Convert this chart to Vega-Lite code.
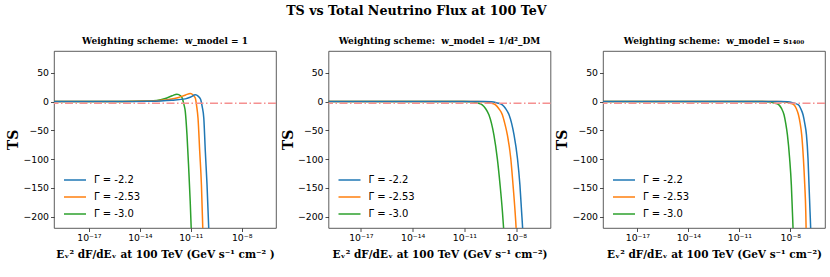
{
  "$schema": "https://vega.github.io/schema/vega-lite/v6.json",
  "padding": {"left": 6, "top": 4, "right": 5, "bottom": 5},
  "background": "white",
  "title": {"text": "TS vs Total Neutrino Flux at 100 TeV", "font": "DejaVu Serif", "fontSize": 12.7, "fontWeight": "bold", "color": "black", "anchor": "middle", "frame": "bounds", "offset": 19},
  "datasets": {
    "curves": [
      {"panel": 1, "series": "Γ = -3.0", "flux": 3.16e-20, "ts": 0},
      {"panel": 1, "series": "Γ = -3.0", "flux": 1e-15, "ts": 0.2},
      {"panel": 1, "series": "Γ = -3.0", "flux": 3.16e-14, "ts": 1},
      {"panel": 1, "series": "Γ = -3.0", "flux": 1e-13, "ts": 2},
      {"panel": 1, "series": "Γ = -3.0", "flux": 3.16e-13, "ts": 5.5},
      {"panel": 1, "series": "Γ = -3.0", "flux": 7.94e-13, "ts": 10},
      {"panel": 1, "series": "Γ = -3.0", "flux": 1.55e-12, "ts": 12.9},
      {"panel": 1, "series": "Γ = -3.0", "flux": 2.51e-12, "ts": 10},
      {"panel": 1, "series": "Γ = -3.0", "flux": 3.16e-12, "ts": 6},
      {"panel": 1, "series": "Γ = -3.0", "flux": 3.98e-12, "ts": -5},
      {"panel": 1, "series": "Γ = -3.0", "flux": 4.79e-12, "ts": -17.5},
      {"panel": 1, "series": "Γ = -3.0", "flux": 6.03e-12, "ts": -58},
      {"panel": 1, "series": "Γ = -3.0", "flux": 7.59e-12, "ts": -116},
      {"panel": 1, "series": "Γ = -3.0", "flux": 9.33e-12, "ts": -174},
      {"panel": 1, "series": "Γ = -3.0", "flux": 1.07e-11, "ts": -221},
      {"panel": 1, "series": "Γ = -3.0", "flux": 1.17e-11, "ts": -260},

      {"panel": 1, "series": "Γ = -2.53", "flux": 3.16e-20, "ts": 0},
      {"panel": 1, "series": "Γ = -2.53", "flux": 1e-15, "ts": 0.2},
      {"panel": 1, "series": "Γ = -2.53", "flux": 3.16e-14, "ts": 0.8},
      {"panel": 1, "series": "Γ = -2.53", "flux": 1.58e-13, "ts": 2},
      {"panel": 1, "series": "Γ = -2.53", "flux": 5.01e-13, "ts": 3.5},
      {"panel": 1, "series": "Γ = -2.53", "flux": 1.95e-12, "ts": 7},
      {"panel": 1, "series": "Γ = -2.53", "flux": 5.01e-12, "ts": 11.5},
      {"panel": 1, "series": "Γ = -2.53", "flux": 9.55e-12, "ts": 14},
      {"panel": 1, "series": "Γ = -2.53", "flux": 1.41e-11, "ts": 11},
      {"panel": 1, "series": "Γ = -2.53", "flux": 1.86e-11, "ts": 6},
      {"panel": 1, "series": "Γ = -2.53", "flux": 2.24e-11, "ts": -8},
      {"panel": 1, "series": "Γ = -2.53", "flux": 2.69e-11, "ts": -29},
      {"panel": 1, "series": "Γ = -2.53", "flux": 3.39e-11, "ts": -87},
      {"panel": 1, "series": "Γ = -2.53", "flux": 4.27e-11, "ts": -145},
      {"panel": 1, "series": "Γ = -2.53", "flux": 5.13e-11, "ts": -221},
      {"panel": 1, "series": "Γ = -2.53", "flux": 5.62e-11, "ts": -260},

      {"panel": 1, "series": "Γ = -2.2", "flux": 3.16e-20, "ts": 0},
      {"panel": 1, "series": "Γ = -2.2", "flux": 1e-15, "ts": 0.2},
      {"panel": 1, "series": "Γ = -2.2", "flux": 3.16e-14, "ts": 0.6},
      {"panel": 1, "series": "Γ = -2.2", "flux": 7.76e-13, "ts": 2.4},
      {"panel": 1, "series": "Γ = -2.2", "flux": 4.79e-12, "ts": 4.7},
      {"panel": 1, "series": "Γ = -2.2", "flux": 1e-11, "ts": 8},
      {"panel": 1, "series": "Γ = -2.2", "flux": 1.86e-11, "ts": 11.7},
      {"panel": 1, "series": "Γ = -2.2", "flux": 2.82e-11, "ts": 9},
      {"panel": 1, "series": "Γ = -2.2", "flux": 3.8e-11, "ts": 4},
      {"panel": 1, "series": "Γ = -2.2", "flux": 4.68e-11, "ts": -8},
      {"panel": 1, "series": "Γ = -2.2", "flux": 5.89e-11, "ts": -29},
      {"panel": 1, "series": "Γ = -2.2", "flux": 7.24e-11, "ts": -87},
      {"panel": 1, "series": "Γ = -2.2", "flux": 9.12e-11, "ts": -145},
      {"panel": 1, "series": "Γ = -2.2", "flux": 1.15e-10, "ts": -221},
      {"panel": 1, "series": "Γ = -2.2", "flux": 1.26e-10, "ts": -260},

      {"panel": 2, "series": "Γ = -3.0", "flux": 3.16e-20, "ts": 0},
      {"panel": 2, "series": "Γ = -3.0", "flux": 9.5e-12, "ts": 0},
      {"panel": 2, "series": "Γ = -3.0", "flux": 2.38e-11, "ts": -0.5},
      {"panel": 2, "series": "Γ = -3.0", "flux": 4.3e-11, "ts": -1.5},
      {"panel": 2, "series": "Γ = -3.0", "flux": 6.6e-11, "ts": -3},
      {"panel": 2, "series": "Γ = -3.0", "flux": 1.07e-10, "ts": -5.8},
      {"panel": 2, "series": "Γ = -3.0", "flux": 1.65e-10, "ts": -12},
      {"panel": 2, "series": "Γ = -3.0", "flux": 2.6e-10, "ts": -23},
      {"panel": 2, "series": "Γ = -3.0", "flux": 3.67e-10, "ts": -38},
      {"panel": 2, "series": "Γ = -3.0", "flux": 5.05e-10, "ts": -58},
      {"panel": 2, "series": "Γ = -3.0", "flux": 7.95e-10, "ts": -99},
      {"panel": 2, "series": "Γ = -3.0", "flux": 1.15e-9, "ts": -145},
      {"panel": 2, "series": "Γ = -3.0", "flux": 1.58e-9, "ts": -192},
      {"panel": 2, "series": "Γ = -3.0", "flux": 1.85e-9, "ts": -221},
      {"panel": 2, "series": "Γ = -3.0", "flux": 2.28e-9, "ts": -270},

      {"panel": 2, "series": "Γ = -2.53", "flux": 3.16e-20, "ts": 0},
      {"panel": 2, "series": "Γ = -2.53", "flux": 5.9e-11, "ts": 0},
      {"panel": 2, "series": "Γ = -2.53", "flux": 1.47e-10, "ts": -0.5},
      {"panel": 2, "series": "Γ = -2.53", "flux": 2.53e-10, "ts": -1.5},
      {"panel": 2, "series": "Γ = -2.53", "flux": 3.8e-10, "ts": -3},
      {"panel": 2, "series": "Γ = -2.53", "flux": 6.25e-10, "ts": -5.8},
      {"panel": 2, "series": "Γ = -2.53", "flux": 9.6e-10, "ts": -12},
      {"panel": 2, "series": "Γ = -2.53", "flux": 1.56e-9, "ts": -23},
      {"panel": 2, "series": "Γ = -2.53", "flux": 2.15e-9, "ts": -38},
      {"panel": 2, "series": "Γ = -2.53", "flux": 3.04e-9, "ts": -58},
      {"panel": 2, "series": "Γ = -2.53", "flux": 4.8e-9, "ts": -99},
      {"panel": 2, "series": "Γ = -2.53", "flux": 6.47e-9, "ts": -145},
      {"panel": 2, "series": "Γ = -2.53", "flux": 8.52e-9, "ts": -192},
      {"panel": 2, "series": "Γ = -2.53", "flux": 9.8e-9, "ts": -221},
      {"panel": 2, "series": "Γ = -2.53", "flux": 1.12e-8, "ts": -265},

      {"panel": 2, "series": "Γ = -2.2", "flux": 3.16e-20, "ts": 0},
      {"panel": 2, "series": "Γ = -2.2", "flux": 1.47e-10, "ts": 0},
      {"panel": 2, "series": "Γ = -2.2", "flux": 3.66e-10, "ts": -0.5},
      {"panel": 2, "series": "Γ = -2.2", "flux": 6.3e-10, "ts": -1.5},
      {"panel": 2, "series": "Γ = -2.2", "flux": 9.5e-10, "ts": -3},
      {"panel": 2, "series": "Γ = -2.2", "flux": 1.56e-9, "ts": -5.8},
      {"panel": 2, "series": "Γ = -2.2", "flux": 2.4e-9, "ts": -12},
      {"panel": 2, "series": "Γ = -2.2", "flux": 3.8e-9, "ts": -23},
      {"panel": 2, "series": "Γ = -2.2", "flux": 5.37e-9, "ts": -38},
      {"panel": 2, "series": "Γ = -2.2", "flux": 7.4e-9, "ts": -58},
      {"panel": 2, "series": "Γ = -2.2", "flux": 1.17e-8, "ts": -99},
      {"panel": 2, "series": "Γ = -2.2", "flux": 1.62e-8, "ts": -145},
      {"panel": 2, "series": "Γ = -2.2", "flux": 2.03e-8, "ts": -192},
      {"panel": 2, "series": "Γ = -2.2", "flux": 2.33e-8, "ts": -221},
      {"panel": 2, "series": "Γ = -2.2", "flux": 2.68e-8, "ts": -265},

      {"panel": 3, "series": "Γ = -3.0", "flux": 3.16e-20, "ts": 0},
      {"panel": 3, "series": "Γ = -3.0", "flux": 2e-10, "ts": 0},
      {"panel": 3, "series": "Γ = -3.0", "flux": 5.01e-10, "ts": -0.5},
      {"panel": 3, "series": "Γ = -3.0", "flux": 8.71e-10, "ts": -1.5},
      {"panel": 3, "series": "Γ = -3.0", "flux": 1.32e-9, "ts": -3},
      {"panel": 3, "series": "Γ = -3.0", "flux": 2.14e-9, "ts": -5.8},
      {"panel": 3, "series": "Γ = -3.0", "flux": 3.02e-9, "ts": -12},
      {"panel": 3, "series": "Γ = -3.0", "flux": 4.27e-9, "ts": -23},
      {"panel": 3, "series": "Γ = -3.0", "flux": 5.37e-9, "ts": -38},
      {"panel": 3, "series": "Γ = -3.0", "flux": 6.76e-9, "ts": -58},
      {"panel": 3, "series": "Γ = -3.0", "flux": 9.12e-9, "ts": -99},
      {"panel": 3, "series": "Γ = -3.0", "flux": 1.15e-8, "ts": -145},
      {"panel": 3, "series": "Γ = -3.0", "flux": 1.33e-8, "ts": -192},
      {"panel": 3, "series": "Γ = -3.0", "flux": 1.45e-8, "ts": -221},
      {"panel": 3, "series": "Γ = -3.0", "flux": 1.62e-8, "ts": -270},

      {"panel": 3, "series": "Γ = -2.53", "flux": 3.16e-20, "ts": 0},
      {"panel": 3, "series": "Γ = -2.53", "flux": 1.58e-9, "ts": 0},
      {"panel": 3, "series": "Γ = -2.53", "flux": 3.98e-9, "ts": -0.5},
      {"panel": 3, "series": "Γ = -2.53", "flux": 6.76e-9, "ts": -1.5},
      {"panel": 3, "series": "Γ = -2.53", "flux": 1e-8, "ts": -3},
      {"panel": 3, "series": "Γ = -2.53", "flux": 1.66e-8, "ts": -5.8},
      {"panel": 3, "series": "Γ = -2.53", "flux": 2.24e-8, "ts": -12},
      {"panel": 3, "series": "Γ = -2.53", "flux": 3.02e-8, "ts": -23},
      {"panel": 3, "series": "Γ = -2.53", "flux": 3.8e-8, "ts": -38},
      {"panel": 3, "series": "Γ = -2.53", "flux": 4.68e-8, "ts": -58},
      {"panel": 3, "series": "Γ = -2.53", "flux": 5.89e-8, "ts": -99},
      {"panel": 3, "series": "Γ = -2.53", "flux": 7.08e-8, "ts": -145},
      {"panel": 3, "series": "Γ = -2.53", "flux": 8.13e-8, "ts": -192},
      {"panel": 3, "series": "Γ = -2.53", "flux": 8.51e-8, "ts": -221},
      {"panel": 3, "series": "Γ = -2.53", "flux": 9.33e-8, "ts": -265},

      {"panel": 3, "series": "Γ = -2.2", "flux": 3.16e-20, "ts": 0},
      {"panel": 3, "series": "Γ = -2.2", "flux": 2.82e-9, "ts": 0},
      {"panel": 3, "series": "Γ = -2.2", "flux": 7.08e-9, "ts": -0.5},
      {"panel": 3, "series": "Γ = -2.2", "flux": 1.2e-8, "ts": -1.5},
      {"panel": 3, "series": "Γ = -2.2", "flux": 1.78e-8, "ts": -3},
      {"panel": 3, "series": "Γ = -2.2", "flux": 3.02e-8, "ts": -5.8},
      {"panel": 3, "series": "Γ = -2.2", "flux": 4.07e-8, "ts": -12},
      {"panel": 3, "series": "Γ = -2.2", "flux": 5.62e-8, "ts": -23},
      {"panel": 3, "series": "Γ = -2.2", "flux": 7.08e-8, "ts": -38},
      {"panel": 3, "series": "Γ = -2.2", "flux": 8.91e-8, "ts": -58},
      {"panel": 3, "series": "Γ = -2.2", "flux": 1.1e-7, "ts": -99},
      {"panel": 3, "series": "Γ = -2.2", "flux": 1.26e-7, "ts": -145},
      {"panel": 3, "series": "Γ = -2.2", "flux": 1.45e-7, "ts": -192},
      {"panel": 3, "series": "Γ = -2.2", "flux": 1.58e-7, "ts": -221},
      {"panel": 3, "series": "Γ = -2.2", "flux": 1.74e-7, "ts": -265}
    ],
    "threshold": [{"ts": -3}]
  },
  "spacing": 52.5,
  "bounds": "flush",
  "resolve": {"scale": {"color": "independent"}, "legend": {"color": "independent"}},
  "hconcat": [
    {
      "width": 222, "height": 177,
      "title": {"text": "Weighting scheme:\u00a0\u00a0w_model = 1"},
      "layer": [
        {
          "data": {"name": "curves"},
          "transform": [{"filter": "datum.panel === 1"}],
          "mark": {"type": "line", "clip": true, "strokeWidth": 1.5, "interpolate": "monotone"},
          "encoding": {
            "x": {"field": "flux", "type": "quantitative", "scale": {"type": "log", "domain": [8.9e-20, 1.05e-6], "nice": false}, "axis": {"values": [1e-17, 1e-14, 1e-11, 1e-8], "tickCount": 10, "labelExpr": "datum.value < 1e-16 ? '10⁻¹⁷' : datum.value < 1e-13 ? '10⁻¹⁴' : datum.value < 1e-10 ? '10⁻¹¹' : '10⁻⁸'"}, "title": "Eᵥ² dF/dEᵥ at 100 TeV (GeV s⁻¹ cm⁻² )"},
            "y": {"field": "ts", "type": "quantitative", "scale": {"domain": [-220, 88], "nice": false, "zero": false}, "axis": {"values": [-200, -150, -100, -50, 0, 50], "tickCount": 10}, "title": "TS"},
            "color": {"field": "series", "type": "nominal", "sort": ["Γ = -2.2", "Γ = -2.53", "Γ = -3.0"], "scale": {"domain": ["Γ = -2.2", "Γ = -2.53", "Γ = -3.0"], "range": ["#1f77b4", "#ff7f0e", "#2ca02c"]}, "legend": {"title": null}}
          }
        },
        {
          "data": {"name": "threshold"},
          "mark": {"type": "rule", "color": "#f59090", "strokeDash": [8, 2.5, 1.5, 2.5], "strokeWidth": 1.5},
          "encoding": {"y": {"field": "ts", "type": "quantitative"}}
        }
      ]
    },
    {
      "width": 222, "height": 177,
      "title": {"text": "Weighting scheme:\u00a0\u00a0w_model = 1/d²_DM"},
      "layer": [
        {
          "data": {"name": "curves"},
          "transform": [{"filter": "datum.panel === 2"}],
          "mark": {"type": "line", "clip": true, "strokeWidth": 1.5, "interpolate": "monotone"},
          "encoding": {
            "x": {"field": "flux", "type": "quantitative", "scale": {"type": "log", "domain": [1.35e-19, 9.55e-7], "nice": false}, "axis": {"values": [1e-17, 1e-14, 1e-11, 1e-8], "tickCount": 10, "labelExpr": "datum.value < 1e-16 ? '10⁻¹⁷' : datum.value < 1e-13 ? '10⁻¹⁴' : datum.value < 1e-10 ? '10⁻¹¹' : '10⁻⁸'"}, "title": "Eᵥ² dF/dEᵥ at 100 TeV (GeV s⁻¹ cm⁻²)"},
            "y": {"field": "ts", "type": "quantitative", "scale": {"domain": [-220, 88], "nice": false, "zero": false}, "axis": {"values": [-200, -150, -100, -50, 0, 50], "tickCount": 10}, "title": "TS"},
            "color": {"field": "series", "type": "nominal", "sort": ["Γ = -2.2", "Γ = -2.53", "Γ = -3.0"], "scale": {"domain": ["Γ = -2.2", "Γ = -2.53", "Γ = -3.0"], "range": ["#1f77b4", "#ff7f0e", "#2ca02c"]}, "legend": {"title": null}}
          }
        },
        {
          "data": {"name": "threshold"},
          "mark": {"type": "rule", "color": "#f59090", "strokeDash": [8, 2.5, 1.5, 2.5], "strokeWidth": 1.5},
          "encoding": {"y": {"field": "ts", "type": "quantitative"}}
        }
      ]
    },
    {
      "width": 222, "height": 177,
      "title": {"text": "Weighting scheme:\u00a0\u00a0w_model = s₁₄₀₀"},
      "layer": [
        {
          "data": {"name": "curves"},
          "transform": [{"filter": "datum.panel === 3"}],
          "mark": {"type": "line", "clip": true, "strokeWidth": 1.5, "interpolate": "monotone"},
          "encoding": {
            "x": {"field": "flux", "type": "quantitative", "scale": {"type": "log", "domain": [9.5e-20, 1.1e-6], "nice": false}, "axis": {"values": [1e-17, 1e-14, 1e-11, 1e-8], "tickCount": 10, "labelExpr": "datum.value < 1e-16 ? '10⁻¹⁷' : datum.value < 1e-13 ? '10⁻¹⁴' : datum.value < 1e-10 ? '10⁻¹¹' : '10⁻⁸'"}, "title": "Eᵥ² dF/dEᵥ at 100 TeV (GeV s⁻¹ cm⁻²)"},
            "y": {"field": "ts", "type": "quantitative", "scale": {"domain": [-220, 88], "nice": false, "zero": false}, "axis": {"values": [-200, -150, -100, -50, 0, 50], "tickCount": 10}, "title": "TS"},
            "color": {"field": "series", "type": "nominal", "sort": ["Γ = -2.2", "Γ = -2.53", "Γ = -3.0"], "scale": {"domain": ["Γ = -2.2", "Γ = -2.53", "Γ = -3.0"], "range": ["#1f77b4", "#ff7f0e", "#2ca02c"]}, "legend": {"title": null}}
          }
        },
        {
          "data": {"name": "threshold"},
          "mark": {"type": "rule", "color": "#f59090", "strokeDash": [8, 2.5, 1.5, 2.5], "strokeWidth": 1.5},
          "encoding": {"y": {"field": "ts", "type": "quantitative"}}
        }
      ]
    }
  ],
  "config": {
    "font": "DejaVu Sans",
    "view": {"stroke": "#333", "strokeWidth": 0.8},
    "axis": {"grid": false, "domain": false, "tickColor": "#222", "tickWidth": 0.8, "tickSize": 3.5, "labelFont": "DejaVu Sans", "labelFontSize": 9.3, "labelColor": "black", "labelPadding": 2, "labelOverlap": false, "titleColor": "black"},
    "axisX": {"titleFont": "DejaVu Serif", "titleFontSize": 10.5, "titleFontWeight": "bold", "titlePadding": 7},
    "axisY": {"titleFont": "DejaVu Serif", "titleFontSize": 14, "titleFontWeight": "bold", "titlePadding": 2},
    "title": {"font": "DejaVu Serif", "fontSize": 9, "fontWeight": "bold", "color": "black", "offset": 5},
    "legend": {"orient": "bottom-left", "offset": 9, "padding": 0, "labelFont": "DejaVu Sans", "labelFontSize": 10, "labelColor": "black", "symbolType": "stroke", "symbolSize": 484, "symbolStrokeWidth": 1.5, "rowPadding": -1.2, "labelOffset": 7}
  }
}
